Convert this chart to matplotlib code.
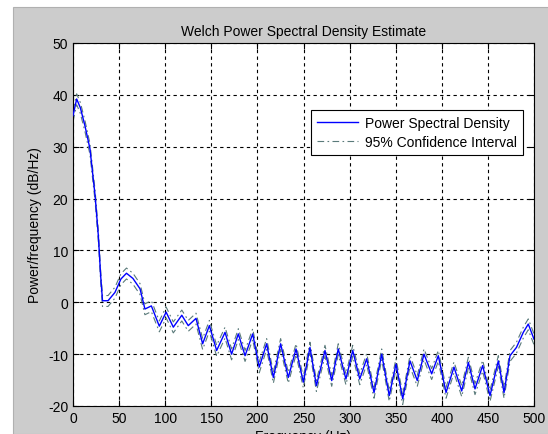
""" Welch PSD estimate with 95% confidence bounds """
import numpy as np
import matplotlib.pyplot as plt
from matplotlib.patches import Rectangle

plt.rcParams['font.family'] = ['Liberation Sans', 'DejaVu Sans']
plt.rcParams['axes.unicode_minus'] = False

# Values (Hz, dB/Hz)
freq = [0, 4, 8, 13, 18.4, 24, 27.5, 30, 32, 38, 45.5, 52, 58, 65, 72.7, 78,
        85, 93.6, 101, 108.8, 118, 125, 133.4, 140.6, 147.9, 155.8, 164.9, 172,
        179.3, 186.6, 194.9, 202, 210, 217.3, 225.2, 233.5, 241.9, 249.8, 257,
        264, 273.3, 280.6, 287.7, 296, 303.4, 311, 318.5, 326.5, 334.8, 343,
        350.3, 357.6, 365.5, 373.4, 380.7, 389, 396.2, 404.6, 413.2, 421.6,
        428.8, 436, 444.3, 452.3, 461.3, 467.5, 474, 481, 488.4, 493.8, 500]
psd = [36.0, 39.2, 37.5, 34.0, 29.6, 20.5, 12.8, 5.1, 0.3, 0.3, 1.9, 4.5, 5.6,
       4.6, 2.6, -1.3, -0.7, -4.6, -1.9, -4.8, -2.5, -4.5, -3.1, -8.0, -4.5,
       -9.3, -5.8, -10.0, -6.1, -10.3, -6.1, -12.5, -8.0, -14.5, -8.0, -14.5,
       -9.0, -15.4, -8.7, -16.1, -9.3, -15.1, -9.0, -14.8, -9.3, -14.8, -10.9,
       -17.4, -10.0, -18.0, -11.9, -18.6, -11.3, -15.1, -10.0, -13.8, -10.3,
       -17.4, -12.5, -17.1, -11.6, -16.7, -12.2, -18.0, -11.3, -17.4, -10.3,
       -8.7, -5.8, -4.2, -7.1]
ci_upper = [37.0, 40.2, 38.5, 35.0, 30.6, 21.5, 13.8, 6.1, 1.3, 1.3, 2.9, 5.5,
            6.6, 5.6, 3.6, -0.3, 0.3, -3.6, -0.9, -3.8, -1.5, -3.5, -2.1, -7.0,
            -3.5, -8.3, -4.8, -9.0, -5.1, -9.3, -5.1, -11.5, -7.0, -13.5, -7.0,
            -13.5, -8.0, -14.4, -7.7, -15.1, -8.3, -14.1, -8.0, -13.8, -8.3,
            -13.8, -9.9, -16.4, -9.0, -17.0, -10.9, -17.6, -10.3, -14.1, -9.0,
            -12.8, -9.3, -16.4, -11.5, -16.1, -10.6, -15.7, -11.2, -17.0, -10.3,
            -16.4, -9.3, -7.7, -4.8, -3.2, -6.1]
ci_lower = [34.9, 38.1, 36.4, 32.9, 28.5, 19.4, 11.7, 4.0, -0.8, -0.8, 0.8,
            3.4, 4.5, 3.5, 1.5, -2.4, -1.8, -5.7, -3.0, -5.9, -3.6, -5.6, -4.2,
            -9.1, -5.6, -10.4, -6.9, -11.1, -7.2, -11.4, -7.2, -13.6, -9.1,
            -15.6, -9.1, -15.6, -10.1, -16.5, -9.8, -17.2, -10.4, -16.2, -10.1,
            -15.9, -10.4, -15.9, -12.0, -18.5, -11.1, -19.1, -13.0, -19.7,
            -12.4, -16.2, -11.1, -14.9, -11.4, -18.5, -13.6, -18.2, -12.7,
            -17.8, -13.3, -19.1, -12.4, -18.5, -11.4, -9.8, -6.9, -5.3, -8.2]

fig = plt.figure(figsize=(5.48, 4.35), dpi=100, facecolor='white')
# grey window area (white strip on top and left like the screenshot)
fig.patches.append(Rectangle((13/548, 0), 1, 1 - 8/435, transform=fig.transFigure,
                             facecolor='#cccccc', edgecolor='#b0b0b0', lw=0.8, zorder=-1))
ax = fig.add_axes([73/548, 1 - 407/435, 461/548, 363/435])

ax.plot(freq, psd, color='#0000ff', lw=1.0, label='Power Spectral Density', zorder=3)
ax.plot(freq, ci_upper, color='#5a7a7a', lw=0.8, ls=(0, (6, 3, 1.5, 3)),
        label='95% Confidence Interval', zorder=2)
ax.plot(freq, ci_lower, color='#5a7a7a', lw=0.8, ls=(0, (6, 3, 1.5, 3)), zorder=2)

ax.set_xlim(0, 500)
ax.set_ylim(-20, 50)
ax.set_xticks(np.arange(0, 501, 50))
ax.set_yticks(np.arange(-20, 51, 10))
ax.tick_params(direction='in', top=True, right=True, labelsize=10, length=4)
ax.grid(True, color='black', ls=(0, (3, 3)), lw=0.8)
for s in ax.spines.values():
    s.set_linewidth(0.8)

ax.set_title('Welch Power Spectral Density Estimate', fontsize=10, pad=6)
ax.set_ylabel('Power/frequency (dB/Hz)', fontsize=10, labelpad=4)
ax.set_xlabel('Frequency (Hz)', fontsize=10, labelpad=3)

leg = ax.legend(loc='upper right', bbox_to_anchor=(0.976, 0.815), fontsize=10,
                fancybox=False, framealpha=1, edgecolor='black', borderaxespad=0,
                handlelength=3.0, handletextpad=0.5, borderpad=0.4, labelspacing=0.4)
leg.get_frame().set_linewidth(0.8)

fig.savefig('out.png', dpi=100, facecolor=fig.get_facecolor())
